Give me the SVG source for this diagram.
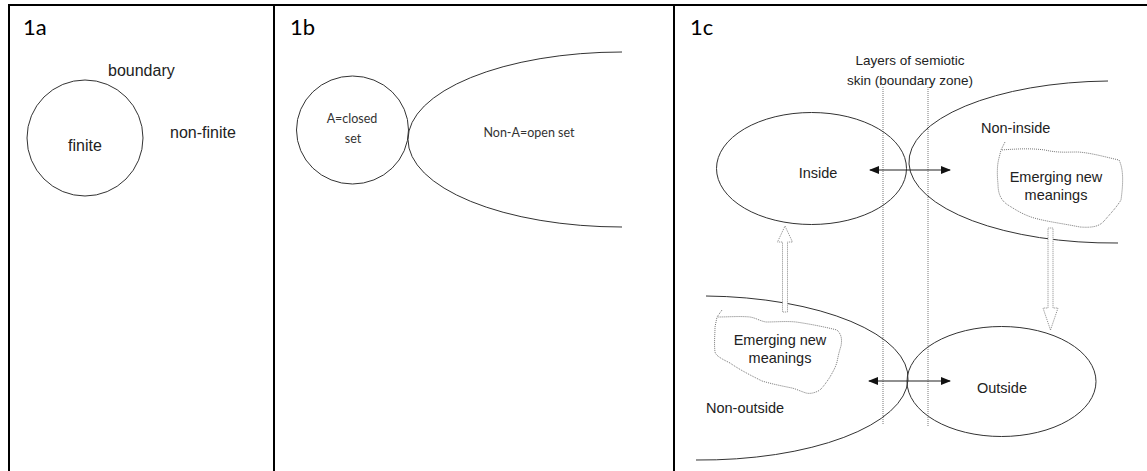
<svg xmlns="http://www.w3.org/2000/svg" width="1147" height="471" viewBox="0 0 1147 471">
  <defs>
    <style>
      .frame { stroke: #000; stroke-width: 2; fill: none; }
      .shape { stroke: #333; stroke-width: 1; fill: none; }
      .dotted { stroke: #777; stroke-width: 1; fill: none; stroke-dasharray: 1 1; }
      .hollow { stroke: #888; stroke-width: 1; fill: #fff; stroke-dasharray: 1 1; }
      .panel { font-family: Lato, "Liberation Sans", sans-serif; font-size: 22px; fill: #000; }
      .sans { font-family: "Liberation Sans", Arial, sans-serif; font-size: 16px; fill: #222; }
      .small { font-family: Lato, "Liberation Sans", sans-serif; font-size: 12.5px; fill: #333; }
      .c { font-family: "Liberation Sans", Arial, sans-serif; font-size: 14.5px; fill: #222; }
      .mid { text-anchor: middle; }
      .link { stroke: #222; stroke-width: 1.2; fill: none; }
    </style>
    <marker id="head" viewBox="0 0 10 8" refX="9" refY="4" markerWidth="10" markerHeight="8" markerUnits="userSpaceOnUse" orient="auto-start-reverse">
      <path d="M0,0 L10,4 L0,8 z" fill="#111"/>
    </marker>
  </defs>

  <rect width="1147" height="471" fill="#fff"/>

  <!-- table frame -->
  <g id="frame">
    <line class="frame" x1="8" y1="5" x2="1147" y2="5"/>
    <line class="frame" x1="9" y1="4" x2="9" y2="471"/>
    <line class="frame" x1="274" y1="4" x2="274" y2="471"/>
    <line class="frame" x1="674" y1="4" x2="674" y2="471"/>
  </g>

  <!-- panel 1a -->
  <g id="panel-1a">
    <text class="panel" x="23" y="35">1a</text>
    <g id="finite">
      <circle class="shape" cx="85" cy="138" r="58"/>
      <text class="sans" x="68" y="151">finite</text>
    </g>
    <text class="sans" x="108" y="76">boundary</text>
    <text class="sans" x="170" y="138">non-finite</text>
  </g>

  <!-- panel 1b -->
  <g id="panel-1b">
    <text class="panel" x="290" y="35">1b</text>
    <g id="closed-set">
      <ellipse class="shape" cx="352.5" cy="130" rx="56" ry="54"/>
      <text class="small mid" x="352" y="123">A=closed</text>
      <text class="small mid" x="353" y="143">set</text>
    </g>
    <g id="open-set">
      <path class="shape" d="M622,52 A214,87.5 0 0 0 622,227"/>
      <text class="small mid" x="529" y="137">Non-A=open set</text>
    </g>
  </g>

  <!-- panel 1c -->
  <g id="panel-1c">
    <text class="panel" x="690" y="35">1c</text>

    <g id="boundary-zone">
      <text class="c mid" x="910" y="65" style="font-size:13.5px">Layers of semiotic</text>
      <text class="c mid" x="910" y="85" style="font-size:13.5px">skin (boundary zone)</text>
      <line class="dotted" x1="883" y1="87" x2="883" y2="425"/>
      <line class="dotted" x1="928" y1="87" x2="928" y2="427"/>
    </g>

    <g id="inside">
      <ellipse class="shape" cx="811.5" cy="168.5" rx="95" ry="56"/>
      <text class="c mid" x="818" y="178">Inside</text>
    </g>

    <g id="non-inside">
      <path class="shape" d="M1108,81 A204,81 0 0 0 1118,243"/>
      <text class="c" x="981" y="133">Non-inside</text>
    </g>

    <g id="emerging-top">
      <path class="dotted" d="M1005,142 L1001,150 C1015,149 1030,148 1045,150 C1058,153 1066,152 1078,152 C1092,153 1105,157 1119,160 C1124,170 1123,185 1121,200 C1116,208 1110,214 1105,220 C1100,226 1094,228 1080,227 C1065,224 1050,222 1038,219 C1025,216 1016,210 1008,205 C1000,200 998,192 998,184 C997,175 997,165 999,158 L1001,150"/>
      <text class="c mid" x="1056" y="182">Emerging new</text>
      <text class="c mid" x="1056" y="200">meanings</text>
    </g>

    <g id="non-outside">
      <path class="shape" d="M706,296 A207,82 0 0 1 696,460"/>
      <text class="c" x="706" y="413">Non-outside</text>
    </g>

    <g id="emerging-bottom">
      <path class="dotted" d="M722,310 L717,317 C728,317 740,316 750,317 C756,318 760,321 766,322 C776,322 786,321 796,322 C810,324 825,327 837,330 C842,335 842,340 841,346 C839,352 838,357 837,362 C835,369 832,373 830,377 C826,383 823,387 820,390 C815,393 810,394 806,393 C800,391 796,389 792,388 C782,386 772,384 762,381 C752,376 740,370 730,363 C722,359 716,356 715,352 C714,343 715,335 715,327 L717,317"/>
      <text class="c mid" x="780" y="345">Emerging new</text>
      <text class="c mid" x="780" y="363">meanings</text>
    </g>

    <g id="outside">
      <ellipse class="shape" cx="1001.5" cy="381.5" rx="94.5" ry="55"/>
      <text class="c mid" x="1002" y="393">Outside</text>
    </g>
  </g>

  <!-- connectors -->
  <g id="connectors">
    <line class="link" x1="870" y1="170" x2="950" y2="170" marker-start="url(#head)" marker-end="url(#head)"/>
    <line class="link" x1="869" y1="381" x2="950" y2="381" marker-start="url(#head)" marker-end="url(#head)"/>
    <polygon class="hollow" points="785,226 792.5,242 787.5,242 787.5,312 782.5,312 782.5,242 777.5,242"/>
    <polygon class="hollow" points="1050.5,330 1058,308 1053,308 1053,228 1048,228 1048,308 1043,308"/>
  </g>
</svg>
